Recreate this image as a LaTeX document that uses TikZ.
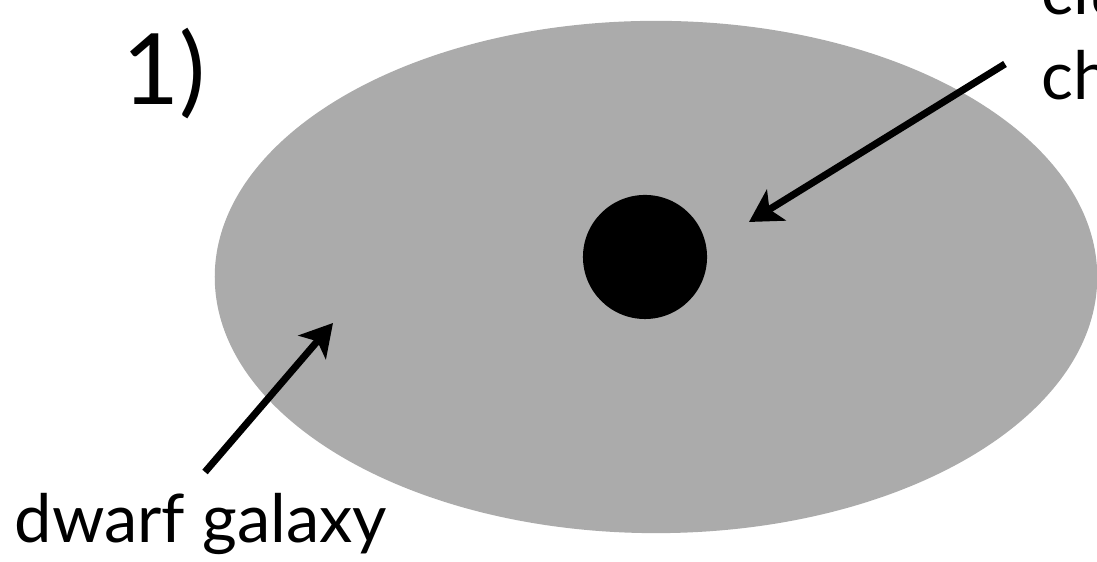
\documentclass[tikz,border=0pt]{standalone}
\usepackage{fontspec}
\setmainfont{Lato}
\usetikzlibrary{shapes.geometric,arrows.meta,positioning}
\definecolor{galaxygray}{HTML}{ABABAB}

\begin{document}
\begin{tikzpicture}[x=0.01cm,y=-0.01cm,
  label/.style={anchor=base west,inner sep=0pt,font=\fontsize{19}{22}\selectfont},
  pointer/.style={line width=2pt,-{Stealth[length=0.32cm,width=0.36cm,inset=0.08cm]}}]
\useasboundingbox (0,0) rectangle (1097,562);
\clip (0,0) rectangle (1097,562);

\node[ellipse,fill=galaxygray,inner sep=0pt,minimum width=8.82cm,minimum height=5.12cm] (galaxy) at (656,277) {};
\node[circle,fill=black,inner sep=0pt,minimum size=1.24cm] (core) at (645,257) {};

\node[anchor=base west,inner sep=0pt,font=\fontsize{28}{32}\selectfont] (panel) at (122,105) {1)};
\node[label] (dwarf) at (14,543) {dwarf galaxy};
\node[label] (clu) at (1041,15) {clu};
\node[label] (ch) at (1041,100) {ch};

\coordinate (tailA) at (1005,64);
\coordinate (tipA) at (749,222);
\coordinate (tailB) at (205,472);
\coordinate (tipB) at (333,323);

\draw[pointer] (tailA) -- (tipA);
\draw[pointer] (tailB) -- (tipB);
\end{tikzpicture}
\end{document}
